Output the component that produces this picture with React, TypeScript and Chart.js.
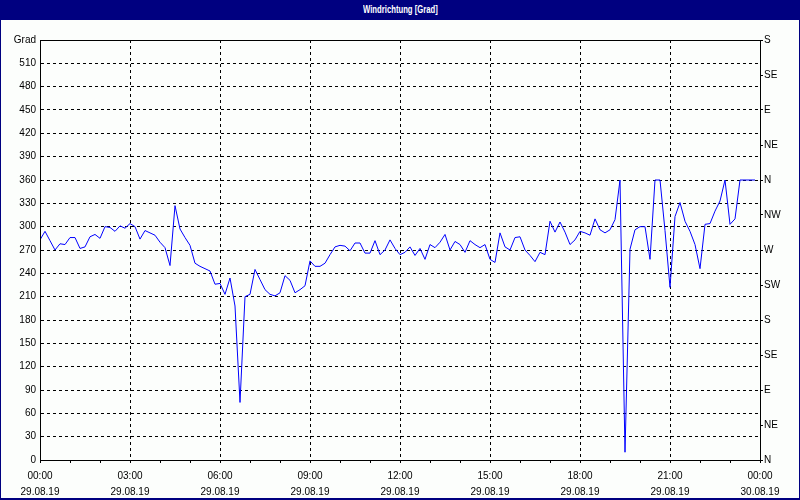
import React, { useEffect, useRef } from "react";
import { Chart, registerables } from "chart.js";

Chart.register(...registerables);

const chartTitle = "Windrichtung [Grad]";
const leftAxisUnit = "Grad";

// 10-minute samples starting 29.08.19 00:00
const sampleIntervalMinutes = 10;
const windDirection = [
  283, 294, 282, 270, 278, 277, 286, 286, 272, 274,
  287, 290, 285, 300, 299, 294, 301, 298, 304, 300,
  284, 295, 292, 289, 280, 273, 250, 327, 297, 286,
  276, 253, 249, 246, 243, 226, 227, 213, 234, 198,
  74, 210, 213, 245, 232, 219, 213, 211, 215, 237,
  231, 215, 219, 224, 256, 249, 249, 253, 264, 274,
  276, 275, 269, 279, 279, 266, 266, 282, 264, 270,
  283, 272,
  264, 267, 274, 263, 272, 258, 277, 273, 280, 290,
  270, 281, 277, 267, 282, 277, 273, 277, 258, 254,
  292, 274, 270, 286, 287, 270, 263, 255, 267, 264,
  307, 293, 306, 293, 277, 283, 294, 292, 289, 310,
  296, 292, 296, 309, 360, 10, 271, 296, 300, 300,
  258, 360, 360, 295, 222, 313, 331, 307, 294, 277,
  246, 303, 304, 320, 333, 360, 303, 310, 360, 360,
  360, 360,
];

const xMinMinutes = 0;
const xMaxMinutes = 1440;
const xMinorStepMinutes = 60;
const xMajorStepMinutes = 180;
const xTimeLabels = ["00:00", "03:00", "06:00", "09:00", "12:00", "15:00", "18:00", "21:00", "00:00"];
const xDateLabels = ["29.08.19", "29.08.19", "29.08.19", "29.08.19", "29.08.19", "29.08.19", "29.08.19", "29.08.19", "30.08.19"];

const yMin = 0;
const yMax = 540;
const yStep = 30;
const compassStep = 45;
const compassLabels = ["N", "NE", "E", "SE", "S", "SW", "W", "NW", "N", "NE", "E", "SE", "S"];

const NAVY = "#000080";
const BG = "#fcfefc";
const LINE = "#0000ff";
const FONT = "'Liberation Sans', Arial, sans-serif";

const framePlugin = {
  id: "frame",
  afterDraw(chart: any) {
    const { ctx, chartArea } = chart;
    const { left, top, right, bottom } = chartArea;
    ctx.save();
    ctx.strokeStyle = "#000";
    ctx.lineWidth = 1;
    ctx.setLineDash([]);
    ctx.strokeRect(Math.round(left) + 0.5, Math.round(top) + 0.5, Math.round(right - left), Math.round(bottom - top));
    ctx.restore();
  },
};

export default function App() {
  const canvasRef = useRef<HTMLCanvasElement | null>(null);

  useEffect(() => {
    const canvas = canvasRef.current;
    if (!canvas) return;
    const points = windDirection.map((v, i) => ({ x: i * sampleIntervalMinutes, y: v }));
    const chart = new Chart(canvas, {
      type: "line",
      data: {
        datasets: [
          {
            data: points,
            borderColor: LINE,
            borderWidth: 1,
            pointRadius: 0,
            tension: 0,
            fill: false,
          },
        ],
      },
      options: {
        animation: false,
        responsive: false,
        devicePixelRatio: 1,
        layout: { padding: { top: 40, left: 0, right: 0, bottom: 0 } },
        plugins: {
          legend: { display: false },
          tooltip: { enabled: false },
          title: { display: false },
        },
        scales: {
          x: {
            type: "linear",
            position: "bottom",
            min: xMinMinutes,
            max: xMaxMinutes,
            afterFit: (s: any) => { s.height = 40; },
            afterBuildTicks: (s: any) => {
              const t = [];
              for (let v = xMinMinutes; v <= xMaxMinutes; v += xMinorStepMinutes) t.push({ value: v });
              s.ticks = t;
            },
            ticks: {
              autoSkip: false,
              maxRotation: 0,
              color: "#000",
              padding: 5,
              font: { family: FONT, size: 10, lineHeight: 1.6 },
              callback: (value: any) => {
                const v = Number(value);
                if (v % xMajorStepMinutes !== 0) return "";
                const idx = v / xMajorStepMinutes;
                return [xTimeLabels[idx], xDateLabels[idx]];
              },
            },
            grid: {
              color: (c: any) => (c.tick && c.tick.value % xMajorStepMinutes === 0 ? "#000" : "rgba(0,0,0,0)"),
              tickColor: "#000",
              tickLength: 3,
              lineWidth: 1,
            },
            border: { display: true, color: "#000", width: 1, dash: [3, 3] },
          },
          y: {
            type: "linear",
            position: "left",
            min: yMin,
            max: yMax,
            afterFit: (s: any) => { s.width = 40; },
            ticks: {
              stepSize: yStep,
              color: "#000",
              padding: 4,
              font: { family: FONT, size: 10 },
              callback: (value: any) => (Number(value) === yMax ? leftAxisUnit : String(value)),
            },
            grid: {
              color: "#000",
              lineWidth: 1,
              drawTicks: false,
            },
            border: { display: true, color: "#000", width: 1, dash: [3, 3] },
          },
          y2: {
            type: "linear",
            position: "right",
            min: yMin,
            max: yMax,
            afterFit: (s: any) => { s.width = 40; },
            ticks: {
              stepSize: compassStep,
              color: "#000",
              padding: 1,
              font: { family: FONT, size: 10 },
              callback: (value: any) => compassLabels[Math.round(Number(value) / compassStep)] ?? "",
            },
            grid: {
              drawOnChartArea: false,
              color: "#000",
              tickColor: "#000",
              tickLength: 3,
            },
            border: { display: true, color: "#000", width: 1 },
          },
        },
      },
      plugins: [framePlugin],
    } as any);
    return () => chart.destroy();
  }, []);

  return (
    <div style={{ position: "fixed", left: 0, top: 0, width: 800, height: 500, background: BG, overflow: "hidden" }}>
      <canvas ref={canvasRef} width={800} height={500} style={{ position: "absolute", left: 0, top: 0, width: 800, height: 500 }} />
      <div
        style={{
          position: "absolute",
          left: 0,
          top: 0,
          width: 800,
          height: 20,
          background: NAVY,
          color: "#fff",
          textAlign: "center",
          lineHeight: "19px",
          fontFamily: "'Liberation Sans Narrow', 'Liberation Sans', Arial, sans-serif",
          fontWeight: "bold",
          fontSize: 11,
        }}
      >
        <span style={{ display: "inline-block", transform: "scaleX(0.7)" }}>{chartTitle}</span>
      </div>
      <div style={{ position: "absolute", left: 0, top: 20, width: 1, height: 480, background: NAVY }} />
      <div style={{ position: "absolute", right: 0, top: 20, width: 1, height: 480, background: NAVY }} />
      <div style={{ position: "absolute", left: 0, bottom: 0, width: 800, height: 2, background: NAVY }} />
    </div>
  );
}
